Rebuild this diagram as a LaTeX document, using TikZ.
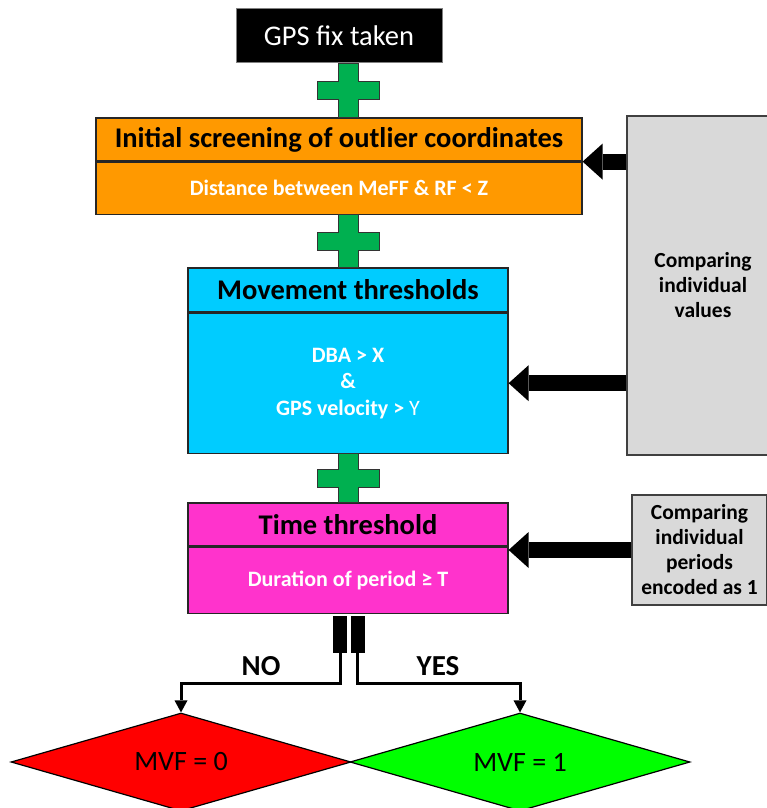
\documentclass[tikz,border=0pt]{standalone}
\usepackage{fontspec}
\setmainfont{Carlito}
\usetikzlibrary{positioning,shapes.geometric,arrows.meta,calc}

\definecolor{screenorange}{HTML}{FF9900}
\definecolor{moveblue}{HTML}{00CCFF}
\definecolor{timepink}{HTML}{FF33CC}
\definecolor{cmpgray}{HTML}{D9D9D9}
\definecolor{plusgreen}{HTML}{00B050}
\definecolor{nored}{HTML}{FF0000}
\definecolor{yesgreen}{HTML}{00FF00}

\tikzstyle{head} = [rectangle, draw=black!85, line width=1.2pt, inner sep=0pt, font=\fontsize{28.5}{30}\selectfont\bfseries]
\tikzstyle{body} = [rectangle, draw=black!85, line width=1.2pt, inner sep=0pt, text=white, align=center, font=\fontsize{22}{26.5}\selectfont\bfseries]
\tikzstyle{cmpbox} = [rectangle, draw=black!75, line width=1.2pt, fill=cmpgray, inner sep=0pt, align=center, font=\fontsize{21.5}{25}\selectfont\bfseries]
\tikzstyle{outcome} = [diamond, aspect=3.47, draw=black, line width=1.2pt, inner sep=0pt, minimum width=340pt, minimum height=98pt, font=\fontsize{28}{30}\selectfont]
\tikzstyle{bigarrow} = [line width=16pt, -{Triangle[length=20pt,width=36pt,line width=0pt]}]
\tikzstyle{flow} = [line width=3pt, line join=miter, -{Triangle[length=12pt,width=13pt,line width=0pt]}]
\tikzstyle{bar} = [rectangle, fill=black, inner sep=0pt, minimum width=14pt, minimum height=37pt]
\tikzstyle{branch} = [font=\fontsize{29}{30}\selectfont\bfseries]

% green cross between two stacked nodes
\newcommand{\joinplus}[2]{%
    \path (#1.south -| spine) -- (#2.north -| spine) coordinate[pos=0.5] (m);
    \filldraw[fill=plusgreen, draw=black!80, line width=1pt]
        ($(#1.south -| spine)+(-10,0)$) -- ($(#1.south -| spine)+(10,0)$)
        -- ($(m)+(10,-9)$) -- ($(m)+(31,-9)$) -- ($(m)+(31,9)$) -- ($(m)+(10,9)$)
        -- ($(#2.north -| spine)+(10,0)$) -- ($(#2.north -| spine)+(-10,0)$)
        -- ($(m)+(-10,9)$) -- ($(m)+(-31,9)$) -- ($(m)+(-31,-9)$) -- ($(m)+(-10,-9)$)
        -- cycle;}

\begin{document}
\begin{tikzpicture}[x=1pt, y=-1pt]
    \useasboundingbox (0,0) rectangle (767,808);
    \coordinate (spine) at (348,0);

    % start
    \node (gps) at (339,36) [rectangle, fill=black, draw=black!50, line width=1pt, text=white,
        minimum width=206pt, minimum height=54pt, font=\fontsize{28.5}{30}\selectfont] {GPS fix taken};

    % screening
    \node (screenhead) at (339,139.5) [head, fill=screenorange, minimum width=486pt, minimum height=43pt]
        {Initial screening of outlier coordinates};
    \node (screenbody) [body, fill=screenorange, below=0pt of screenhead, minimum width=486pt, minimum height=52pt]
        {Distance between MeFF \& RF < Z};

    % movement
    \node (movehead) at (348,290) [head, fill=moveblue, minimum width=320pt, minimum height=44pt]
        {Movement thresholds};
    \node (movebody) [body, fill=moveblue, below=0pt of movehead, minimum width=320pt, minimum height=140pt]
        {DBA > X\\\&\\GPS velocity > {\mdseries Y}};

    % time
    \node (timehead) at (348,524.5) [head, fill=timepink, minimum width=320pt, minimum height=43pt]
        {Time threshold};
    \node (timebody) [body, fill=timepink, below=0pt of timehead, minimum width=320pt, minimum height=66pt]
        {Duration of period ≥ T};

    % comparison boxes
    \node (cmpval) at (703,285.5) [cmpbox, minimum width=152pt, minimum height=339pt]
        {Comparing\\individual\\values};
    \node (cmpper) at (699.5,550) [cmpbox, minimum width=135pt, minimum height=110pt]
        {Comparing\\individual\\periods\\encoded as 1};

    % crosses
    \joinplus{gps}{screenhead}
    \joinplus{screenbody}{movehead}
    \joinplus{movebody}{timehead}

    % block arrows
    \draw[bigarrow] (screenbody.north east -| cmpval.west) -- (screenbody.north east);
    \draw[bigarrow] (movebody.east -| cmpval.west) -- (movebody.east);
    \draw[bigarrow] (cmpper.west) -- (cmpper.west -| timebody.east);

    % outcomes
    \node (barno) at (340,634.5) [bar] {};
    \node (baryes) at (357.5,634.5) [bar] {};
    \node (mvf0) at (181,762) [outcome, fill=nored] {MVF = 0};
    \node (mvf1) at (520,762) [outcome, fill=yesgreen] {MVF = 1};
    \node (nolabel) at (261,666) [branch] {NO};
    \node (yeslabel) at (438,666) [branch] {YES};

    \draw[flow] (barno.south) -- ++(0,30) -| (mvf0.north);
    \draw[flow] (baryes.south) -- ++(0,30) -| (mvf1.north);
\end{tikzpicture}
\end{document}
